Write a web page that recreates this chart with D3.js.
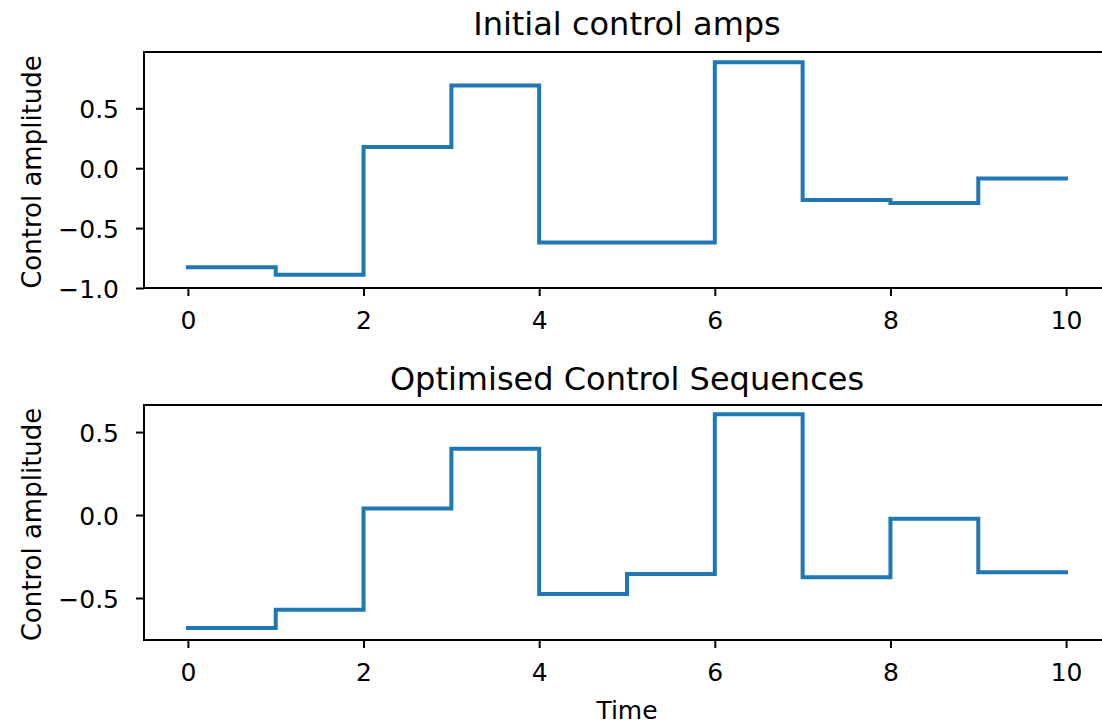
<!DOCTYPE html>
<html>
<head>
<meta charset="utf-8">
<script src="https://cdn.jsdelivr.net/npm/d3@7"></script>
<style>
  body { margin: 0; background: #fff; }
  text { font-family: "DejaVu Sans", sans-serif; fill: #000; }
</style>
</head>
<body>
<script>
// data
var timeSlots = [0, 1, 2, 3, 4, 5, 6, 7, 8, 9, 10];
var xTicks = [0, 2, 4, 6, 8, 10];
var initialAmps = [-0.827, -0.89, 0.177, 0.69, -0.62, -0.62, 0.885, -0.265, -0.29, -0.085];
var optimisedAmps = [-0.68, -0.57, 0.04, 0.40, -0.476, -0.355, 0.608, -0.375, -0.022, -0.345];
var initialYTicks = [-1.0, -0.5, 0.0, 0.5];
var optimisedYTicks = [-0.5, 0.0, 0.5];
var titles = ["Initial control amps", "Optimised Control Sequences"];

var svg = d3.select("body").append("svg")
  .attr("width", 1102)
  .attr("height", 725);

// shared x scale (matplotlib style 5% margin, right edge runs off the picture)
var xScale = d3.scaleLinear().domain([-0.5, 10.5]).range([144, 1110]);

function drawPanel(opts) {
  var yScale = d3.scaleLinear().domain(opts.yDomain).range([opts.bottom, opts.top]);
  var g = svg.append("g");

  // step line, last value held to t = 10
  var pts = timeSlots.map(function(t, i) {
    return [t, opts.amps[Math.min(i, opts.amps.length - 1)]];
  });
  var line = d3.line()
    .x(function(d) { return xScale(d[0]); })
    .y(function(d) { return yScale(d[1]); })
    .curve(d3.curveStepAfter);
  g.append("path")
    .datum(pts)
    .attr("d", line)
    .attr("fill", "none")
    .attr("stroke", "#1f77b4")
    .attr("stroke-width", 4)
    .attr("stroke-linecap", "square");

  // x axis
  var xAxis = d3.axisBottom(xScale).tickValues(xTicks).tickSize(8).tickPadding(15)
    .tickFormat(d3.format("d"));
  var xg = g.append("g")
    .attr("transform", `translate(0, ${opts.bottom})`)
    .call(xAxis);
  xg.select(".domain").remove();

  // y axis
  var yAxis = d3.axisLeft(yScale).tickValues(opts.yTicks).tickSize(8).tickPadding(17)
    .tickFormat(function(d) { return d3.format(".1f")(d).replace("-", "\u2212"); });
  var yg = g.append("g")
    .attr("transform", `translate(${xScale.range()[0]}, 0)`)
    .call(yAxis);
  yg.select(".domain").remove();

  [xg, yg].forEach(function(a) {
    a.selectAll(".tick line").attr("stroke", "#000").attr("stroke-width", 2);
    a.selectAll(".tick text").style("font-size", "25px").attr("fill", "#000");
  });
  yg.selectAll(".tick text").attr("dy", "0.36em");

  // spines (right one falls outside the picture)
  g.append("rect")
    .attr("x", xScale.range()[0])
    .attr("y", opts.top)
    .attr("width", 1120 - xScale.range()[0])
    .attr("height", opts.bottom - opts.top)
    .attr("fill", "none")
    .attr("stroke", "#000")
    .attr("stroke-width", 2);

  // title
  var cx = (xScale.range()[0] + xScale.range()[1]) / 2;
  g.append("text")
    .attr("x", cx)
    .attr("y", opts.titleY)
    .attr("text-anchor", "middle")
    .style("font-size", "32px")
    .text(opts.title);

  // y label
  g.append("text")
    .attr("transform", `translate(41, ${(opts.top + opts.bottom) / 2 + 2}) rotate(-90)`)
    .attr("text-anchor", "middle")
    .style("font-size", "26px")
    .text("Control amplitude");
}

drawPanel({
  amps: initialAmps, yTicks: initialYTicks, yDomain: [-1.0, 0.97],
  top: 52, bottom: 288, title: titles[0], titleY: 35
});

drawPanel({
  amps: optimisedAmps, yTicks: optimisedYTicks, yDomain: [-0.753, 0.663],
  top: 405, bottom: 640, title: titles[1], titleY: 390
});

// x label
svg.append("text")
  .attr("x", (xScale.range()[0] + xScale.range()[1]) / 2)
  .attr("y", 719)
  .attr("text-anchor", "middle")
  .style("font-size", "25px")
  .text("Time");
</script>
</body>
</html>
